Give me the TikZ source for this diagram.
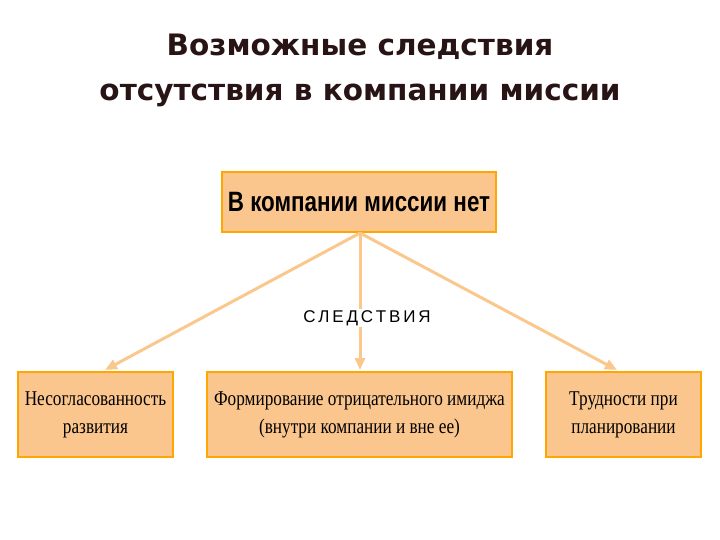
\documentclass[tikz,border=0pt]{standalone}
\usepackage{fontspec}
\usetikzlibrary{arrows.meta}
\setmainfont{Liberation Serif}
\newfontfamily\tfont{DejaVu Sans}
\newfontfamily\hfont{Liberation Sans}
\begin{document}
\begin{tikzpicture}[x=1pt,y=-1pt,
  box/.style={draw=orange!70!yellow,line width=1.5pt,fill={rgb,255:red,251;green,198;blue,142},inner sep=0},
  conn/.style={draw={rgb,255:red,250;green,200;blue,140},line width=3pt,-{Triangle[length=12pt,width=10pt]}}]
\useasboundingbox (0,0) rectangle (720,540);
\node[font=\tfont\bfseries\fontsize{29.5}{45}\selectfont,align=center,text={rgb,255:red,40;green,20;blue,20}] (title) at (360,70) {Возможные следствия\\отсутствия в компании миссии};
\node[box,minimum width=274,minimum height=60] (top) at (359,202) {\hfont\bfseries\fontsize{28}{30}\selectfont\scalebox{0.8}[1]{В компании миссии нет}};
\node[box,minimum width=155,minimum height=85] (l) at (95.5,414.5) {\scalebox{0.82}[1]{\parbox{180pt}{\centering\fontsize{21}{28}\selectfont Несогласованность\\развития}}};
\node[box,minimum width=305,minimum height=85] (m) at (359.5,414.5) {\scalebox{0.82}[1]{\parbox{360pt}{\centering\fontsize{21}{28}\selectfont Формирование отрицательного имиджа\\(внутри компании и вне ее)}}};
\node[box,minimum width=155,minimum height=85] (r) at (623.5,414.5) {\scalebox{0.82}[1]{\parbox{180pt}{\centering\fontsize{21}{28}\selectfont Трудности при\\планировании}}};
\coordinate (s) at (360,233);
\draw[conn] (s) -- (105,370);
\draw[conn] (s) -- (360,370);
\draw[conn] (s) -- (617,370);
\node[font=\hfont\fontsize{17}{20}\selectfont,fill=white,inner sep=1pt] (c) at (367,318) {С\,Л\,Е\,Д\,С\,Т\,В\,И\,Я};
\end{tikzpicture}
\end{document}
